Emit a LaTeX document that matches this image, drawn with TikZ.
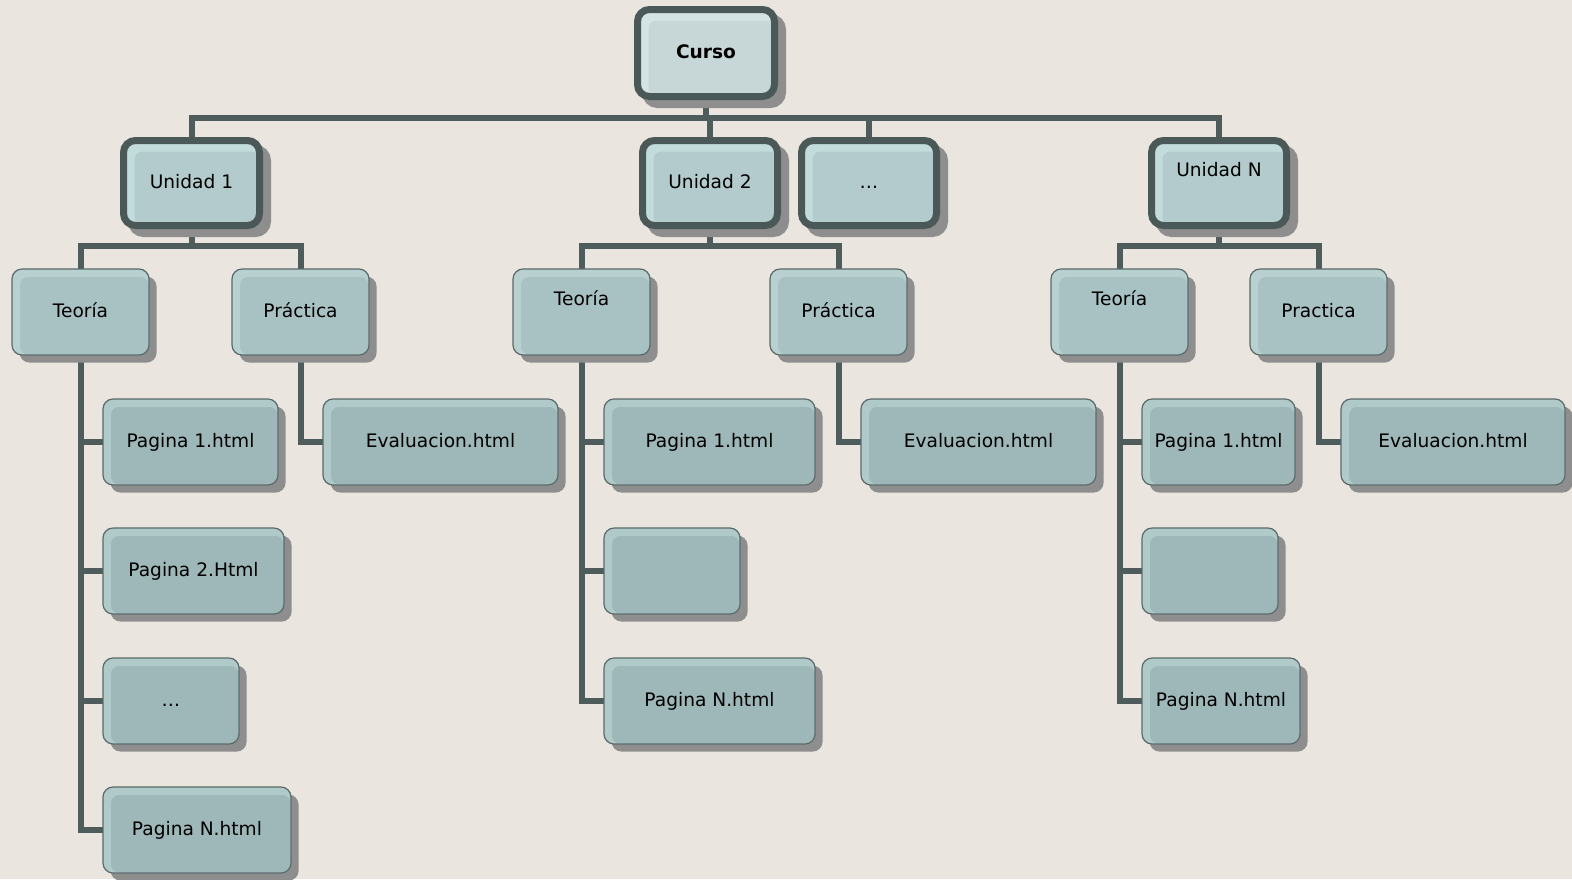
\documentclass[tikz,border=0pt]{standalone}
\usepackage{fontspec}
\setmainfont{DejaVu Sans}
\usetikzlibrary{shadows}

\definecolor{paperc}{HTML}{EAE5DE}
\definecolor{wirec}{HTML}{4E5C5C}
\definecolor{edgedark}{HTML}{4A5858}
\definecolor{edgethin}{HTML}{5A6A6A}
\definecolor{shadowc}{HTML}{8E8E8E}
\definecolor{rootrim}{HTML}{D4E4E4}
\definecolor{rootfill}{HTML}{C7D6D6}
\definecolor{unitrim}{HTML}{C2DCDC}
\definecolor{unitfill}{HTML}{B3CBCC}
\definecolor{partrim}{HTML}{B8D0D0}
\definecolor{partfill}{HTML}{A8C2C3}
\definecolor{pagerim}{HTML}{B0C9C9}
\definecolor{pagefill}{HTML}{9EB7B8}

\pgfdeclarelayer{paper}
\pgfdeclarelayer{wires}
\pgfsetlayers{paper,wires,main}

\tikzset{
  boxbase/.style={rectangle, outer sep=0pt, inner sep=0pt, text=black,
    font=\fontsize{9.3pt}{11pt}\selectfont, text height=6.8pt, text depth=1.8pt},
  bevel/.style n args={3}{fill=#1,
    path picture={\fill[#2, rounded corners=4pt]
      ([shift={(#3,-#3)}]path picture bounding box.north west) rectangle
      ([shift={(-0.3pt,0.3pt)}]path picture bounding box.south east);}},
  thickbox/.style={boxbase, draw=edgedark, line width=3.5pt, rounded corners=6pt,
    drop shadow={shadow xshift=4pt, shadow yshift=-4pt, fill=shadowc,
      draw=shadowc, line width=3.5pt, opacity=1}},
  thinbox/.style={boxbase, draw=edgethin, line width=0.6pt, rounded corners=5pt,
    drop shadow={shadow xshift=3.8pt, shadow yshift=-3.8pt, fill=shadowc, opacity=1}},
  rootbox/.style={thickbox, bevel={rootrim}{rootfill}{5.5pt}, font=\fontsize{9.3pt}{11pt}\selectfont\bfseries},
  unitbox/.style={thickbox, bevel={unitrim}{unitfill}{5.5pt}},
  partbox/.style={thinbox, bevel={partrim}{partfill}{4pt}},
  pagebox/.style={thinbox, bevel={pagerim}{pagefill}{4pt}},
  raised/.style={text depth=13.8pt},
  wire/.style={draw=wirec, line width=3pt},
}

% \placebox[extra]{style}{name}{x0}{y0}{x1}{y1}{text}
\newcommand\placebox[8][]{%
  \pgfmathsetmacro\pbW{(#6-#4)*0.5}%
  \pgfmathsetmacro\pbH{(#7-#5)*0.5}%
  \pgfmathsetmacro\pbX{(#4+#6)/2}%
  \pgfmathsetmacro\pbY{(#5+#7)/2}%
  \node[#2, minimum width=\pbW pt, minimum height=\pbH pt, #1] (#3) at (\pbX,\pbY) {#8};%
}

\begin{document}
\begin{tikzpicture}[x={(0.5pt,0)}, y={(0,-0.5pt)}]
  \begin{pgfonlayer}{paper}
    \fill[paperc] (0,0) rectangle (1572,879);
  \end{pgfonlayer}
  \useasboundingbox (0,0) rectangle (1572,879);

  % top level
  \placebox{rootbox}{curso}{637.5}{9.5}{774.5}{96.5}{Curso}
  % units
  \placebox{unitbox}{u1}{123.5}{140.5}{259.5}{225.5}{Unidad 1}
  \placebox{unitbox}{u2}{642.5}{140.5}{777.5}{225.5}{Unidad 2}
  \placebox{unitbox}{ud}{801.5}{140.5}{936.5}{225.5}{…}
  \placebox[raised]{unitbox}{un}{1151.5}{140.5}{1286.5}{225.5}{Unidad N}
  % theory / practice
  \placebox{partbox}{t1}{12}{269}{149}{355}{Teoría}
  \placebox{partbox}{p1}{232}{269}{369}{355}{Práctica}
  \placebox[raised]{partbox}{t2}{513}{269}{650}{355}{Teoría}
  \placebox{partbox}{p2}{770}{269}{907}{355}{Práctica}
  \placebox[raised]{partbox}{tn}{1051}{269}{1188}{355}{Teoría}
  \placebox{partbox}{pn}{1250}{269}{1387}{355}{Practica}
  % pages, unit 1
  \placebox{pagebox}{t1a}{103}{399}{278}{485}{Pagina 1.html}
  \placebox{pagebox}{t1b}{103}{528}{284}{614}{Pagina 2.Html}
  \placebox{pagebox}{t1c}{103}{658}{239}{744}{…}
  \placebox{pagebox}{t1d}{103}{787}{291}{873}{Pagina N.html}
  \placebox{pagebox}{e1}{323}{399}{558}{485}{Evaluacion.html}
  % pages, unit 2
  \placebox{pagebox}{t2a}{604}{399}{815}{485}{Pagina 1.html}
  \placebox{pagebox}{t2b}{604}{528}{740}{614}{}
  \placebox{pagebox}{t2c}{604}{658}{815}{744}{Pagina N.html}
  \placebox{pagebox}{e2}{861}{399}{1096}{485}{Evaluacion.html}
  % pages, unit N
  \placebox{pagebox}{tna}{1142}{399}{1295}{485}{Pagina 1.html}
  \placebox{pagebox}{tnb}{1142}{528}{1278}{614}{}
  \placebox{pagebox}{tnc}{1142}{658}{1300}{744}{Pagina N.html}
  \placebox{pagebox}{en}{1341}{399}{1565}{485}{Evaluacion.html}

  % junction points of the tree
  \coordinate (bus) at (706,118);
  \coordinate (b1) at (191.5,246);
  \coordinate (b2) at (710,246);
  \coordinate (bn) at (1219,246);

  \begin{pgfonlayer}{wires}
    \draw[wire] (curso.south) -- (bus);
    \foreach \u in {u1,u2,ud,un} \draw[wire] (bus) -| (\u.north);
    \draw[wire] (u1.south) -- (b1);
    \draw[wire] (b1) -| (t1.north);
    \draw[wire] (b1) -| (p1.north);
    \draw[wire] (u2.south) -- (b2);
    \draw[wire] (b2) -| (t2.north);
    \draw[wire] (b2) -| (p2.north);
    \draw[wire] (un.south) -- (bn);
    \draw[wire] (bn) -| (tn.north);
    \draw[wire] (bn) -| (pn.north);
    \foreach \p in {t1a,t1b,t1c,t1d} \draw[wire] (t1.south) |- (\p.west);
    \foreach \p in {t2a,t2b,t2c} \draw[wire] (t2.south) |- (\p.west);
    \foreach \p in {tna,tnb,tnc} \draw[wire] (tn.south) |- (\p.west);
    \draw[wire] (p1.south) |- (e1.west);
    \draw[wire] (p2.south) |- (e2.west);
    \draw[wire] (pn.south) |- (en.west);
  \end{pgfonlayer}
\end{tikzpicture}
\end{document}
